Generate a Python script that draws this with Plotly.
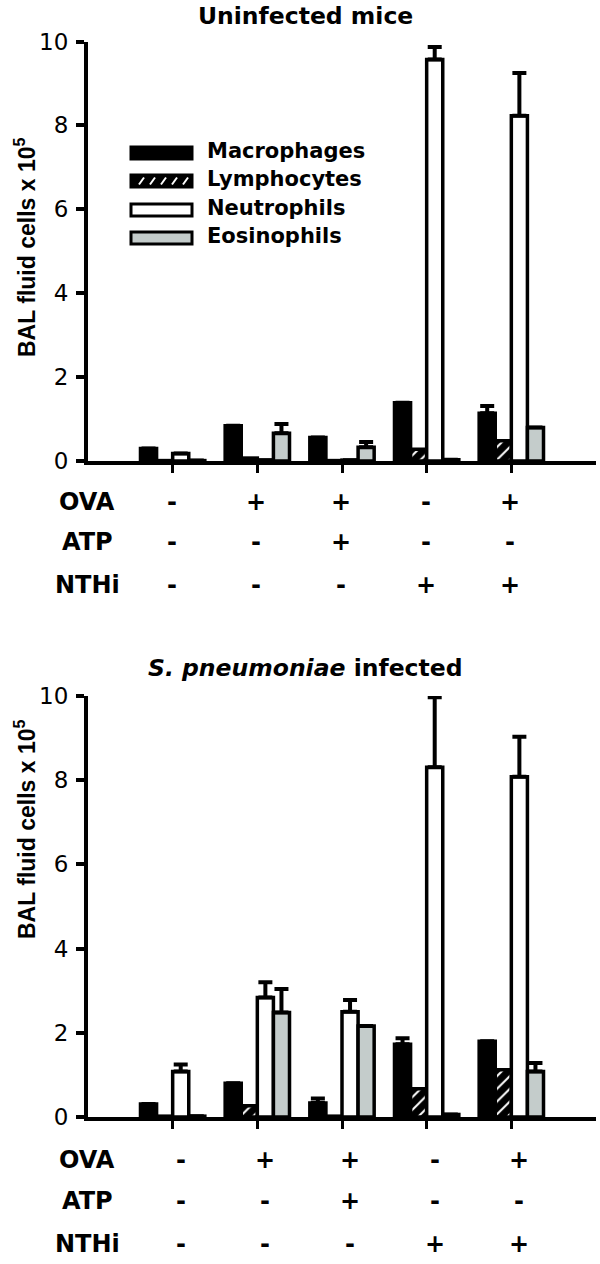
import plotly.graph_objects as go

# ---------------- data ----------------
groups = ["G1", "G2", "G3", "G4", "G5"]
cell_types = ["Macrophages", "Lymphocytes", "Neutrophils", "Eosinophils"]

row_labels = ["OVA", "ATP", "NTHi"]
ova = ["-", "+", "+", "-", "+"]
atp = ["-", "-", "+", "-", "-"]
nthi = ["-", "-", "-", "+", "+"]

panel_titles = ["<b>Uninfected mice</b>", "<b><i>S. pneumoniae</i> infected</b>"]
y_title = "<b>BAL fluid cells x 10<sup>5</sup></b>"

# Uninfected mice (x 10^5 cells)
uninf_mac = [0.30, 0.84, 0.56, 1.39, 1.14]
uninf_mac_err = [0, 0, 0, 0, 0.17]
uninf_lym = [0.01, 0.07, 0.01, 0.28, 0.48]
uninf_lym_err = [0, 0, 0, 0, 0]
uninf_neu = [0.18, 0.02, 0.02, 9.57, 8.23]
uninf_neu_err = [0, 0, 0, 0.30, 1.02]
uninf_eos = [0.01, 0.66, 0.33, 0.03, 0.80]
uninf_eos_err = [0, 0.22, 0.12, 0, 0]

# S. pneumoniae infected mice
spn_mac = [0.31, 0.80, 0.33, 1.73, 1.80]
spn_mac_err = [0, 0, 0.11, 0.14, 0]
spn_lym = [0.02, 0.27, 0.02, 0.67, 1.12]
spn_lym_err = [0, 0, 0, 0, 0]
spn_neu = [1.08, 2.84, 2.50, 8.31, 8.08]
spn_neu_err = [0.17, 0.36, 0.28, 1.66, 0.95]
spn_eos = [0.02, 2.48, 2.16, 0.06, 1.08]
spn_eos_err = [0, 0.56, 0, 0, 0.20]

# ---------------- styling ----------------
W, H = 600, 1264
ML, MR = 88, 4
PW = W - ML - MR
FONT = "DejaVu Sans"
TITLE_FONT = "Liberation Sans, Arial"
EOS_GRAY = "#C4CCCB"


def px_x(px):
    return (px - ML) / PW


def px_y(py):
    return 1 - py / H


styles = [
    dict(color="black"),
    dict(color="black", pattern=dict(shape="/", fgcolor="white", bgcolor="black",
                                     size=9, solidity=0.22)),
    dict(color="white"),
    dict(color=EOS_GRAY),
]

panels = [
    dict(vals=[uninf_mac, uninf_lym, uninf_neu, uninf_eos],
         errs=[uninf_mac_err, uninf_lym_err, uninf_neu_err, uninf_eos_err],
         xa="x", ya="y", ytop=41.5, ybot=461,
         title_xy=(305, 16), ytitle_y=248,
         rows_y=[502, 542, 585], sign_shift=-1),
    dict(vals=[spn_mac, spn_lym, spn_neu, spn_eos],
         errs=[spn_mac_err, spn_lym_err, spn_neu_err, spn_eos_err],
         xa="x2", ya="y2", ytop=696, ybot=1117,
         title_xy=(305, 668), ytitle_y=830,
         rows_y=[1160, 1201, 1244], sign_shift=8),
]

fig = go.Figure()
annotations = []
shapes = []

for p in panels:
    for i, name in enumerate(cell_types):
        err = p["errs"][i]
        marker = dict(line=dict(color="black", width=3.5), **styles[i])
        kw = {}
        if any(e > 0 for e in err):
            kw["error_y"] = dict(type="data", array=err, arrayminus=[0] * len(err),
                                 symmetric=False, color="black", thickness=4, width=7)
        fig.add_trace(go.Bar(x=groups, y=p["vals"][i], name=name, marker=marker,
                             xaxis=p["xa"], yaxis=p["ya"], showlegend=False, **kw))

    # condition table
    for r, (lab, signs) in enumerate(zip(row_labels, [ova, atp, nthi])):
        annotations.append(dict(text=f"<b>{lab}</b>", xref="paper", yref="paper",
                                x=px_x(87), y=px_y(p["rows_y"][r]), xanchor="center",
                                yanchor="middle", showarrow=False,
                                font=dict(family=FONT, size=24, color="black")))
        for g, s in zip(groups, signs):
            annotations.append(dict(text=f"<b>{s}</b>", xref=p["xa"], yref="paper",
                                    x=g, y=px_y(p["rows_y"][r]), xanchor="center",
                                    yanchor="middle", showarrow=False,
                                    xshift=p["sign_shift"],
                                    font=dict(family=FONT, size=24, color="black")))
    # y title
    annotations.append(dict(text=y_title, xref="paper", yref="paper",
                            x=px_x(25), y=px_y(p["ytitle_y"]), xanchor="center",
                            yanchor="middle", textangle=-90, showarrow=False,
                            font=dict(family=TITLE_FONT, size=23, color="black")))

for p, t in zip(panels, panel_titles):
    annotations.append(dict(text=t, xref="paper", yref="paper",
                            x=px_x(p["title_xy"][0]), y=px_y(p["title_xy"][1]),
                            xanchor="center", yanchor="middle", showarrow=False,
                            font=dict(family=FONT, size=23.5, color="black")))

# manual legend (top panel)
leg_y = [153, 181, 210, 238]
for i, name in enumerate(cell_types):
    y0, y1 = leg_y[i] - 6, leg_y[i] + 6
    fill = ["black", "black", "white", EOS_GRAY][i]
    shapes.append(dict(type="rect", xref="paper", yref="paper",
                       x0=px_x(131), x1=px_x(192), y0=px_y(y1), y1=px_y(y0),
                       fillcolor=fill, line=dict(color="black", width=3)))
    if i == 1:
        for k in range(5):
            xs = 139 + k * 11
            shapes.append(dict(type="line", xref="paper", yref="paper",
                               x0=px_x(xs), x1=px_x(xs + 5),
                               y0=px_y(y1 - 2.5), y1=px_y(y0 + 2.5),
                               line=dict(color="white", width=2)))
    annotations.append(dict(text=f"<b>{name}</b>", xref="paper", yref="paper",
                            x=px_x(205), y=px_y(leg_y[i] - 2), xanchor="left",
                            yanchor="middle", showarrow=False,
                            font=dict(family=FONT, size=21, color="black")))

axis_common_x = dict(type="category", categoryorder="array", categoryarray=groups,
                     range=[-1, 5], showline=True, linecolor="black", linewidth=4,
                     ticks="outside", ticklen=8, tickwidth=3, tickcolor="black",
                     showticklabels=False, showgrid=False, zeroline=False, domain=[0, 1],
                     automargin=False)
axis_common_y = dict(range=[0, 10], dtick=2, tick0=0, showline=True, linecolor="black",
                     linewidth=4, ticks="outside", ticklen=8, tickwidth=4,
                     tickcolor="black", showgrid=False, zeroline=False,
                     tickfont=dict(family=FONT, size=23, color="black"),
                     ticklabelstandoff=3, automargin=False)

fig.update_layout(
    template="none",
    width=W, height=H,
    margin=dict(l=ML, r=MR, t=0, b=0, pad=0, autoexpand=False),
    paper_bgcolor="white", plot_bgcolor="white",
    barmode="group", bargap=0.24, bargroupgap=0,
    showlegend=False,
    xaxis=dict(anchor="y", **axis_common_x),
    xaxis2=dict(anchor="y2", **axis_common_x),
    yaxis=dict(anchor="x", domain=[px_y(panels[0]["ybot"]), px_y(panels[0]["ytop"])],
               **axis_common_y),
    yaxis2=dict(anchor="x2", domain=[px_y(panels[1]["ybot"]), px_y(panels[1]["ytop"])],
                **axis_common_y),
    annotations=annotations,
    shapes=shapes,
)

fig.write_html("out.html",
               config={"displayModeBar": False},
               post_script="document.body.style.margin='0px';document.body.style.overflow='hidden';")
